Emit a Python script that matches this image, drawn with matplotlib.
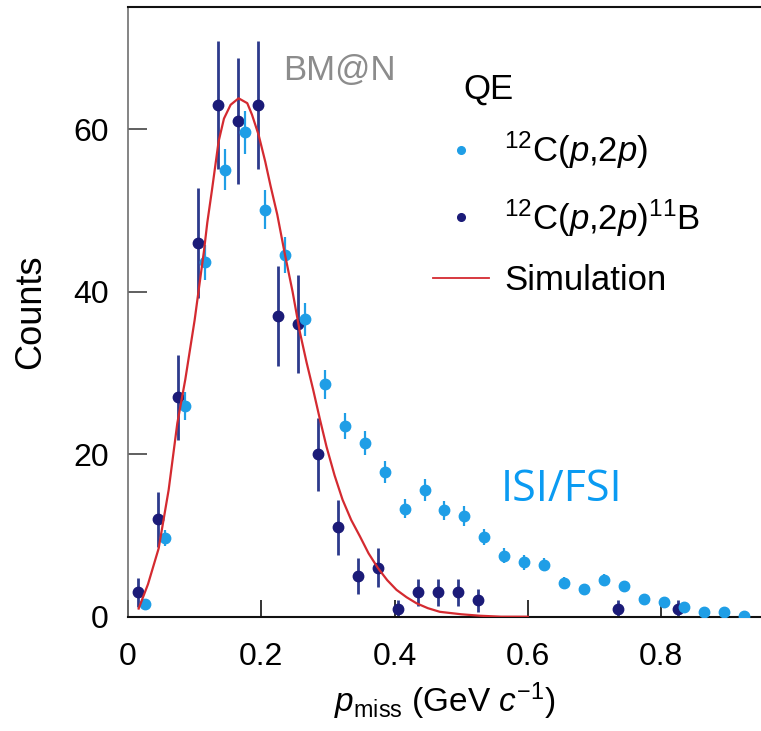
import matplotlib
matplotlib.use("Agg")
import matplotlib.pyplot as plt
from matplotlib.lines import Line2D

plt.rcParams['font.family'] = ['Liberation Sans', 'DejaVu Sans']
plt.rcParams['mathtext.fontset'] = 'custom'
plt.rcParams['mathtext.rm'] = 'Liberation Sans'
plt.rcParams['mathtext.it'] = 'Liberation Sans:italic'
plt.rcParams['mathtext.bf'] = 'Liberation Sans:bold'

# 12C(p,2p) (light blue)
light_x = [0.025, 0.055, 0.085, 0.115, 0.145, 0.175, 0.205, 0.235, 0.265, 0.295,
           0.325, 0.355, 0.385, 0.415, 0.445, 0.475, 0.505, 0.535, 0.565, 0.595,
           0.625, 0.655, 0.685, 0.715, 0.745, 0.775, 0.805, 0.835, 0.865, 0.895, 0.925]
light_y = [1.6, 9.7, 25.9, 43.6, 55.0, 59.6, 50.1, 44.5, 36.6, 28.6,
           23.5, 21.4, 17.8, 13.3, 15.6, 13.1, 12.4, 9.8, 7.5, 6.7,
           6.4, 4.2, 3.4, 4.5, 3.8, 2.2, 1.8, 1.15, 0.55, 0.55, 0.12]
light_err = [0.5, 1.0, 1.7, 2.2, 2.5, 2.6, 2.4, 2.2, 2.0, 1.8,
             1.6, 1.5, 1.4, 1.2, 1.3, 1.2, 1.2, 1.0, 0.9, 0.9,
             0.8, 0.7, 0.6, 0.7, 0.6, 0.5, 0.4, 0.4, 0.3, 0.3, 0.1]

# 12C(p,2p)11B (dark blue)
dark_x = [0.015, 0.045, 0.075, 0.105, 0.135, 0.165, 0.195, 0.225, 0.255, 0.285,
          0.315, 0.345, 0.375, 0.405, 0.435, 0.465, 0.495, 0.525, 0.735, 0.825]
dark_y = [3, 12, 27, 46, 63, 61, 63, 37, 36, 20, 11, 5, 6, 1, 3, 3, 3, 2, 1, 1]
dark_err = [1.8, 3.4, 5.2, 6.8, 7.9, 7.8, 7.9, 6.1, 6.0, 4.5,
            3.4, 2.2, 2.4, 1.0, 1.7, 1.7, 1.7, 1.4, 1.0, 1.0]

# Simulation curve
sim_x = [0.016, 0.030, 0.046, 0.061, 0.074, 0.086, 0.100, 0.114, 0.119, 0.126,
         0.131, 0.136, 0.144, 0.154, 0.166, 0.179, 0.186, 0.196, 0.206, 0.214,
         0.224, 0.235, 0.247, 0.258, 0.268, 0.278, 0.288, 0.298, 0.310, 0.322,
         0.335, 0.348, 0.361, 0.375, 0.389, 0.403, 0.418, 0.433, 0.450, 0.468,
         0.500, 0.528, 0.560, 0.600]
sim_y = [1.0, 4.0, 8.4, 15.6, 23.8, 29.2, 36.5, 45.0, 48.5, 52.5,
         55.5, 58.5, 61.3, 63.0, 63.8, 63.2, 61.8, 59.3, 56.0, 53.0,
         49.5, 44.8, 40.0, 35.0, 31.3, 27.9, 24.3, 20.9, 17.4, 14.4,
         11.9, 9.9, 7.8, 6.0, 4.5, 3.3, 2.4, 1.65, 1.05, 0.6,
         0.3, 0.12, 0.0, 0.0]

x_ticks = [0, 0.2, 0.4, 0.6, 0.8]
x_ticklabels = ['0', '0.2', '0.4', '0.6', '0.8']
y_ticks = [0, 20, 40, 60]

LIGHT = '#1f9ee6'
DARK = '#1b1b78'
DARK_ERR = '#2d3a8c'
RED = '#d42a30'

fig = plt.figure(figsize=(7.61, 7.31), dpi=100)
ax = fig.add_axes([128/761, 114.3/731, 633/761, 609.4/731])

ax.errorbar(dark_x, dark_y, yerr=dark_err, fmt='o', color=DARK, ecolor=DARK_ERR,
            elinewidth=2.0, markersize=7.5, capsize=0, zorder=2)
ax.errorbar(light_x, light_y, yerr=light_err, fmt='o', color=LIGHT, ecolor=LIGHT,
            elinewidth=1.6, markersize=7.5, capsize=0, zorder=3)
ax.plot(sim_x, sim_y, color=RED, lw=1.6, zorder=4, solid_joinstyle='round')

ax.set_xlim(0, 0.95)
ax.set_ylim(0, 75)
ax.set_xticks(x_ticks)
ax.set_xticklabels(x_ticklabels)
ax.set_yticks(y_ticks)

for s in ['top', 'bottom']:
    ax.spines[s].set_color('#111111')
    ax.spines[s].set_linewidth(1.5)
ax.spines['left'].set_color('#707070')
ax.spines['left'].set_linewidth(1.2)
ax.spines['right'].set_visible(False)

ax.tick_params(axis='y', direction='in', length=14, width=1.2, color='#444444',
               labelsize=23, pad=14)
ax.tick_params(axis='x', direction='in', length=12, width=1.2, color='#111111',
               labelsize=23, pad=18)

ax.set_xlabel(r'$p_{\rm miss}$ (GeV $c^{-1}$)', fontsize=24, labelpad=6)
ax.set_ylabel('Counts', fontsize=26, labelpad=18)

fig.text(283/761, 1 - 80/731, 'BM@N', fontsize=25, color='#8c8c8c',
         ha='left', va='baseline')
fig.text(463/761, 1 - 89/731, 'QE', fontsize=25, color='black',
         ha='left', va='center')
fig.text(501/761, 1 - 490/731, 'ISI/FSI', fontsize=31, color='#0a9bf2',
         ha='left', va='center', family=['Open Sans', 'DejaVu Sans'])

handles = [
    Line2D([], [], ls='none', marker='o', color=LIGHT, markersize=5.5),
    Line2D([], [], ls='none', marker='o', color=DARK, markersize=5.5),
    Line2D([], [], color=RED, lw=1.3),
]
labels = [r'$^{12}$C($p$,2$p$)', r'$^{12}$C($p$,2$p$)$^{11}$B', 'Simulation']
fig.legend(handles, labels, loc='center left', bbox_to_anchor=(433/761, 1 - 213.5/731),
           frameon=False, fontsize=25, handlelength=1.6, handletextpad=0.45,
           borderpad=0, borderaxespad=0, labelspacing=0.74)

fig.savefig('out.png', dpi=100)
